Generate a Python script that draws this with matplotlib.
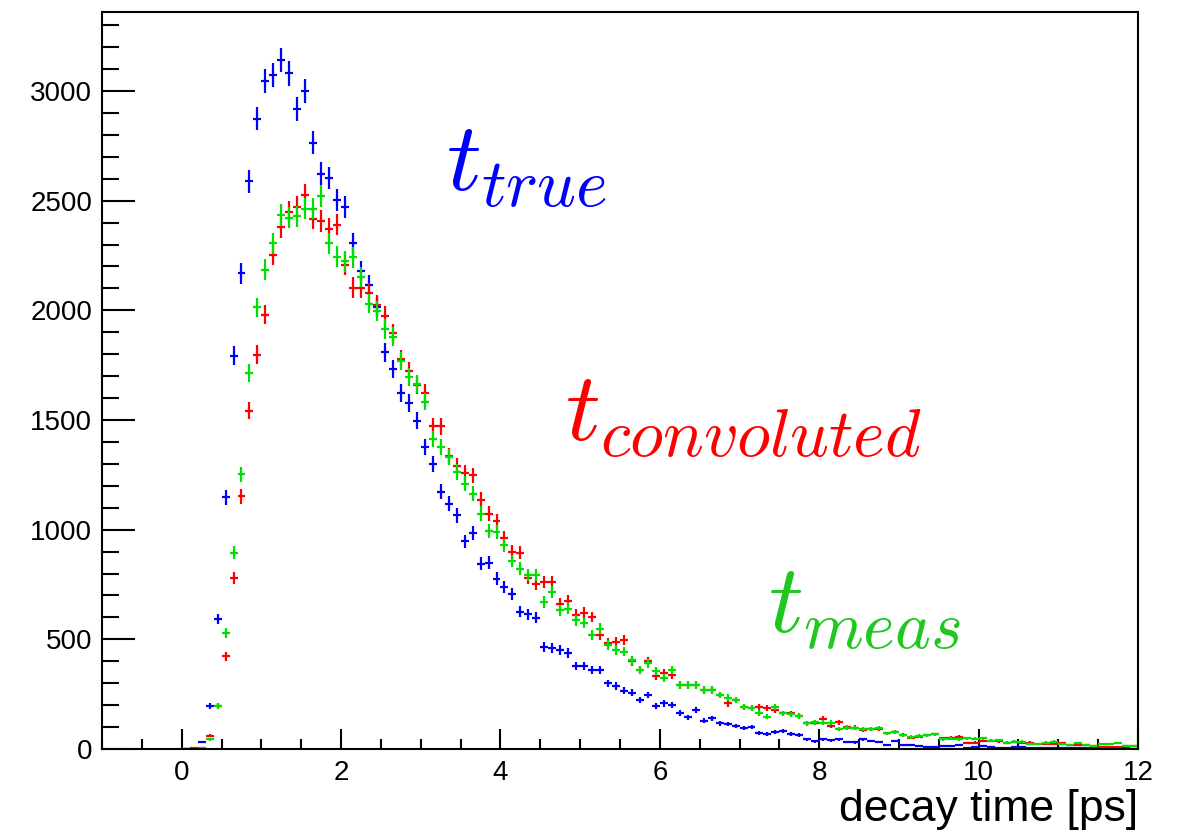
import numpy as np
import matplotlib.pyplot as plt
from matplotlib.ticker import MultipleLocator

# histogram contents, 120 bins of 0.1 ps from 0 to 12 ps
t_true = [
    0, 2, 32, 196, 593, 1148, 1793, 2168, 2588, 2874,
    3047, 3074, 3141, 3080, 2919, 2998, 2764, 2623, 2602, 2503,
    2472, 2306, 2179, 2116, 2013, 1808, 1733, 1624, 1578, 1497,
    1376, 1300, 1174, 1118, 1065, 947, 986, 845, 850, 777,
    739, 708, 625, 614, 598, 466, 461, 451, 438, 379,
    379, 360, 360, 299, 287, 265, 256, 223, 246, 197,
    208, 200, 165, 144, 178, 129, 140, 117, 114, 106,
    97, 100, 74, 68, 76, 83, 68, 64, 44, 35,
    44, 40, 45, 33, 30, 44, 36, 33, 18, 36,
    18, 18, 15, 8, 11, 15, 14, 18, 6, 11,
    14, 8, 6, 6, 8, 7, 5, 6, 5, 5,
    4, 5, 4, 3, 5, 3, 4, 3, 3, 2,
]
t_conv = [
    2, 3, 5, 61, 196, 423, 781, 1153, 1543, 1798,
    1980, 2252, 2378, 2450, 2473, 2526, 2418, 2408, 2373, 2391,
    2206, 2104, 2104, 2077, 2025, 1975, 1895, 1778, 1722, 1660,
    1624, 1472, 1472, 1338, 1290, 1258, 1247, 1137, 1073, 1040,
    964, 898, 895, 781, 751, 762, 762, 663, 674, 613,
    622, 602, 519, 485, 488, 496, 400, 360, 401, 332,
    346, 337, 291, 291, 291, 269, 269, 246, 208, 223,
    193, 185, 190, 185, 178, 162, 162, 150, 117, 120,
    138, 105, 121, 100, 98, 88, 90, 92, 71, 79,
    64, 52, 57, 62, 67, 49, 52, 55, 26, 29,
    38, 38, 35, 29, 34, 26, 29, 23, 23, 23,
    26, 18, 18, 18, 14, 11, 8, 8, 14, 14,
]
t_meas = [
    1, 2, 6, 45, 196, 529, 894, 1252, 1714, 2013,
    2185, 2306, 2434, 2423, 2428, 2464, 2464, 2519, 2306, 2244,
    2224, 2241, 2153, 2031, 1998, 1915, 1880, 1770, 1698, 1665,
    1584, 1414, 1376, 1330, 1262, 1209, 1164, 1073, 994, 989,
    929, 857, 822, 792, 792, 671, 716, 633, 640, 587,
    575, 519, 549, 475, 451, 443, 405, 360, 390, 356,
    322, 360, 291, 291, 291, 269, 269, 246, 234, 223,
    193, 185, 165, 147, 190, 162, 158, 150, 117, 122,
    120, 120, 90, 98, 96, 92, 92, 95, 71, 79,
    62, 55, 60, 62, 67, 44, 47, 44, 49, 47,
    49, 38, 41, 29, 34, 34, 23, 23, 29, 34,
    23, 18, 26, 18, 14, 23, 23, 26, 14, 14,
]

edges = np.linspace(0.0, 12.0, len(t_true) + 1)
centers = 0.5 * (edges[1:] + edges[:-1])
half_w = 0.5 * (edges[1] - edges[0])

plt.rcParams['mathtext.fontset'] = 'cm'
plt.rcParams['font.family'] = ['Liberation Sans', 'DejaVu Sans']

fig = plt.figure(figsize=(11.81, 8.34), dpi=100)
ax = fig.add_axes([0.0864, 0.1019, 0.8772, 0.8837])

series = [(t_true, '#0000ff'), (t_conv, '#ff0000'), (t_meas, '#00e000')]
for vals, col in series:
    v = np.array(vals, dtype=float)
    ax.errorbar(centers, v, yerr=np.sqrt(v), xerr=half_w, fmt='none',
                ecolor=col, elinewidth=1.6, capsize=0)

ax.set_xlim(-1, 12)
ax.set_ylim(0, 3360)
ax.xaxis.set_major_locator(MultipleLocator(2))
ax.xaxis.set_minor_locator(MultipleLocator(0.5))
ax.yaxis.set_major_locator(MultipleLocator(500))
ax.yaxis.set_minor_locator(MultipleLocator(100))

ax.tick_params(axis='both', which='both', direction='in', top=False, right=False,
               labelsize=20, width=1.5)
ax.tick_params(axis='x', which='major', length=14.5, pad=8)
ax.tick_params(axis='x', which='minor', length=7)
ax.tick_params(axis='y', which='major', length=24, pad=7)
ax.tick_params(axis='y', which='minor', length=12)
for s in ax.spines.values():
    s.set_linewidth(1.5)

# labels
ax.text(3.31, 2545, r'$t_{true}$', color='#0000ff', fontsize=70, va='baseline')
ax.text(4.81, 1406, r'$t_{convoluted}$', color='#ff0000', fontsize=70, va='baseline')
ax.text(7.36, 532, r'$t_{meas}$', color='#1ec81e', fontsize=70, va='baseline')

fig.text(0.9636, 0.016, 'decay time [ps]', ha='right', va='baseline', fontsize=32)

fig.savefig('out.png', dpi=100)
